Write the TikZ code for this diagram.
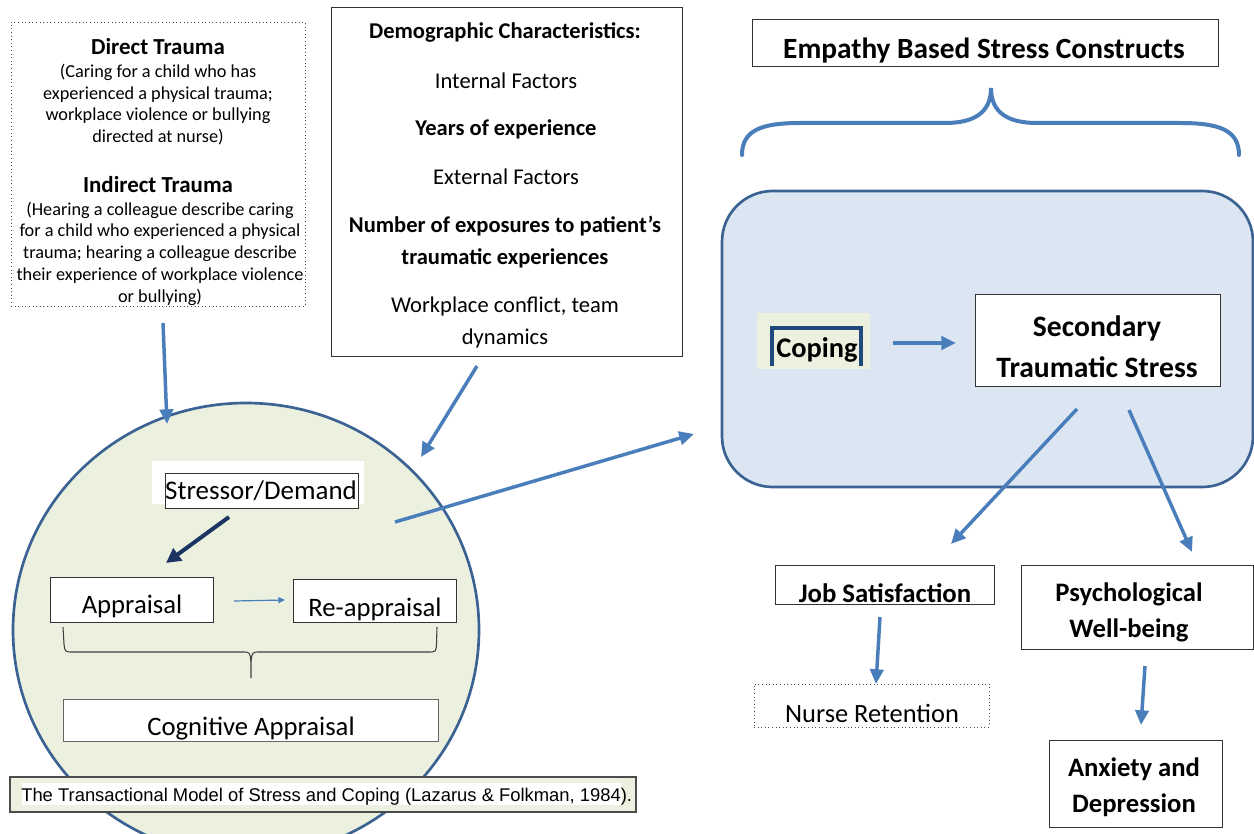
\documentclass[tikz,border=0pt]{standalone}
\usepackage{fontspec}
\setmainfont{Carlito}
\newfontfamily\arialf{Liberation Sans}
\usetikzlibrary{arrows.meta,shapes.geometric}
\definecolor{arrblue}{RGB}{74,126,187}
\definecolor{edgeblue}{RGB}{58,98,146}
\definecolor{paleblue}{RGB}{220,230,242}
\definecolor{palegreen}{RGB}{235,241,222}
\definecolor{navyarrow}{RGB}{28,52,98}
\definecolor{copeblue}{RGB}{31,73,125}
\newcommand\fsz[2]{\fontsize{#1}{#2}\selectfont}
\begin{document}
\begin{tikzpicture}[x=0.75pt,y=-0.75pt,
  box/.style={draw=black!80,line width=0.7pt,fill=white,inner sep=0pt},
  dotbox/.style={draw=black!70,dotted,line width=0.7pt,fill=white,inner sep=0pt},
  txt/.style={inner sep=0pt,align=center},
  flow/.style={draw=arrblue,line width=2.6pt,-{Triangle[length=11pt,width=10pt]}},
  thinflow/.style={draw=arrblue,line width=0.9pt,-{Triangle[length=5pt,width=4.5pt]}},
  navyflow/.style={draw=navyarrow,line width=3pt,-{Triangle[length=11pt,width=11pt]}},
  brace/.style={draw=arrblue,line width=3pt,line cap=round},
  smallbrace/.style={draw=black!75,line width=0.8pt}
]
\useasboundingbox (0,0) rectangle (1254,834);
\clip (0,0) rectangle (1254,834);
\fill[white] (0,0) rectangle (1254,834);

% ---------- Trauma box ----------
\node[dotbox,minimum width=220.5pt,minimum height=213pt] (trauma) at (158,164) {};
\node[txt,font=\fsz{17.2}{20}\bfseries] (dirh) at (158,47) {Direct Trauma};
\node[txt,font=\fsz{13.7}{16.3}] (dirb) at (158,104.5) {(Caring for a child who has\\experienced a physical trauma;\\workplace violence or bullying\\directed at nurse)};
\node[txt,font=\fsz{17.2}{20}\bfseries] (indh) at (158,185) {Indirect Trauma};
\node[txt,font=\fsz{13.7}{16.3}] (indb) at (160,253.5) {(Hearing a colleague describe caring\\for a child who experienced a physical\\trauma; hearing a colleague describe\\their experience of workplace violence\\or bullying)};

% ---------- Demographics box ----------
\node[box,minimum width=263.25pt,minimum height=261.75pt] (demo) at (506.5,181.5) {};
\node[txt,font=\fsz{16.9}{24}\bfseries] (dem1) at (505,32) {Demographic Characteristics:};
\node[txt,font=\fsz{16.9}{24}] (dem2) at (506,81) {Internal Factors};
\node[txt,font=\fsz{16.9}{24}\bfseries] (dem3) at (506,129) {Years of experience};
\node[txt,font=\fsz{16.9}{24}\bfseries] (dem5) at (505,242) {Number of exposures to patient’s\\traumatic experiences};
\node[txt,font=\fsz{16.9}{24}] (dem4) at (506,177) {External Factors};
\node[txt,font=\fsz{16.9}{23.5}] (dem6) at (505,322.5) {Workplace conflict, team\\dynamics};

% ---------- Empathy header and brace ----------
\node[box,minimum width=349.5pt,minimum height=35.25pt] (ebsc) at (985,42.5) {};
\node[txt,font=\fsz{22}{24}\bfseries] (ebsct) at (984,51) {Empathy Based Stress Constructs};
\coordinate (brL) at (742,155);
\coordinate (brT) at (991,88);
\coordinate (brR) at (1239,155);
\draw[brace] (brL) .. controls (742,130) and (762,123) .. (800,123) -- (945,123)
  .. controls (975,123) and (991,112) .. (brT)
  .. controls (991,112) and (1007,123) .. (1037,123) -- (1180,123)
  .. controls (1219,123) and (1239,130) .. (brR);

% ---------- Empathy region ----------
\node[draw=edgeblue,fill=paleblue,line width=2pt,rounded corners=38pt,minimum width=398.25pt,minimum height=222pt,inner sep=0pt] (ebs) at (987.5,339) {};
\node[fill=palegreen,minimum width=84.75pt,minimum height=42pt,inner sep=0pt] (coping) at (813.5,341) {};
\node[txt,font=\fsz{21.3}{24}\bfseries] (copingt) at (817,350) {Coping};
\coordinate (cb1) at (772,366);
\coordinate (cb4) at (861,366);
\draw[draw=copeblue,line width=3pt] (cb1) -- (772,328) -- (861,328) -- (cb4);
\node[box,minimum width=183.75pt,minimum height=69pt] (sts) at (1097.5,340) {};
\node[txt,font=\fsz{22.2}{30.75}\bfseries] (stst) at (1097,346.5) {Secondary\\Traumatic Stress};

% ---------- Outcomes ----------
\node[box,minimum width=164.25pt,minimum height=29.25pt] (js) at (884.5,584.5) {};
\node[txt,font=\fsz{20.1}{24}\bfseries] (jst) at (885,593) {Job Satisfaction};
\node[box,minimum width=174pt,minimum height=63pt] (pw) at (1137,607) {};
\node[txt,font=\fsz{20}{27}\bfseries] (pwt) at (1129,612) {Psychological\\Well-being};
\node[dotbox,minimum width=176.25pt,minimum height=32.25pt] (nr) at (871.5,705.5) {};
\node[txt,font=\fsz{19.8}{24}] (nrt) at (872,713) {Nurse Retention};
\node[box,minimum width=129.75pt,minimum height=65.25pt] (ad) at (1135.5,783.5) {};
\node[txt,font=\fsz{20}{27}\bfseries] (adt) at (1134,787) {Anxiety and\\Depression};

% ---------- Transactional model ----------
\node[ellipse,draw=edgeblue,fill=palegreen,line width=2pt,minimum width=349.5pt,minimum height=340.5pt,inner sep=0pt] (tm) at (246,630) {};
\node[fill=white,minimum width=159pt,minimum height=32.25pt,inner sep=0pt] (sdbg) at (258,482.5) {};
\node[box,minimum width=144.75pt,minimum height=26.25pt] (sd) at (261.5,490.5) {};
\node[txt,font=\fsz{20.2}{24}] (sdt) at (261,491) {Stressor/Demand};
\node[box,minimum width=122.25pt,minimum height=33.75pt] (ap) at (131.5,599.5) {};
\node[txt,font=\fsz{20}{24}] (apt) at (132,606) {Appraisal};
\node[box,minimum width=122.25pt,minimum height=32.25pt] (rap) at (374.5,600.5) {};
\node[txt,font=\fsz{20}{24}] (rapt) at (375,609) {Re-appraisal};
\coordinate (sbL) at (63,627);
\coordinate (sbT) at (251,678);
\coordinate (sbR) at (437,627);
\draw[smallbrace] (sbL) -- (64,644) .. controls (65,652) .. (73,652) -- (242,652)
  .. controls (250,652) .. (251,662) -- (sbT);
\draw[smallbrace] (251,662) .. controls (252,652) .. (260,652) -- (428,652)
  .. controls (436,652) .. (436.5,644) -- (sbR);
\node[box,draw=black!60,minimum width=281.25pt,minimum height=31.5pt] (ca) at (250.5,720) {};
\node[txt,font=\fsz{20}{24}] (cat) at (251,729) {Cognitive Appraisal};

% caption
\node[draw=black!70,line width=0.8pt,fill=palegreen,minimum width=469.5pt,minimum height=26.25pt,inner sep=0pt] (cap) at (323,794.5) {};
\node[fill=white,minimum width=450pt,minimum height=16.5pt,inner sep=0pt] (capbg) at (322,794) {};
\node[txt,anchor=west,font=\arialf\fsz{13.8}{16}] (capt) at (21,797) {The Transactional Model of Stress and Coping (Lazarus \& Folkman, 1984).};

% ---------- Arrows ----------
\coordinate (a1s) at (163,323); \coordinate (a1e) at (167,424);
\coordinate (a2s) at (477,366); \coordinate (a2e) at (421,457);
\coordinate (a3s) at (395,522); \coordinate (a3e) at (694,434);
\coordinate (a4s) at (893,343); \coordinate (a4e) at (956,343);
\coordinate (a5s) at (1077,409); \coordinate (a5e) at (951,544);
\coordinate (a6s) at (1129,410); \coordinate (a6e) at (1192,552);
\coordinate (a7s) at (880,617); \coordinate (a7e) at (876,684);
\coordinate (a8s) at (1145,666); \coordinate (a8e) at (1141,725);
\coordinate (a9s) at (229,517); \coordinate (a9e) at (166,563);
\coordinate (a10s) at (234,601); \coordinate (a10e) at (285,600);
\draw[flow] (a1s) -- (a1e);
\draw[flow] (a2s) -- (a2e);
\draw[flow] (a3s) -- (a3e);
\draw[flow] (a4s) -- (a4e);
\draw[flow] (a5s) -- (a5e);
\draw[flow] (a6s) -- (a6e);
\draw[flow] (a7s) -- (a7e);
\draw[flow] (a8s) -- (a8e);
\draw[navyflow] (a9s) -- (a9e);
\draw[thinflow] (a10s) -- (a10e);
\end{tikzpicture}
\end{document}
